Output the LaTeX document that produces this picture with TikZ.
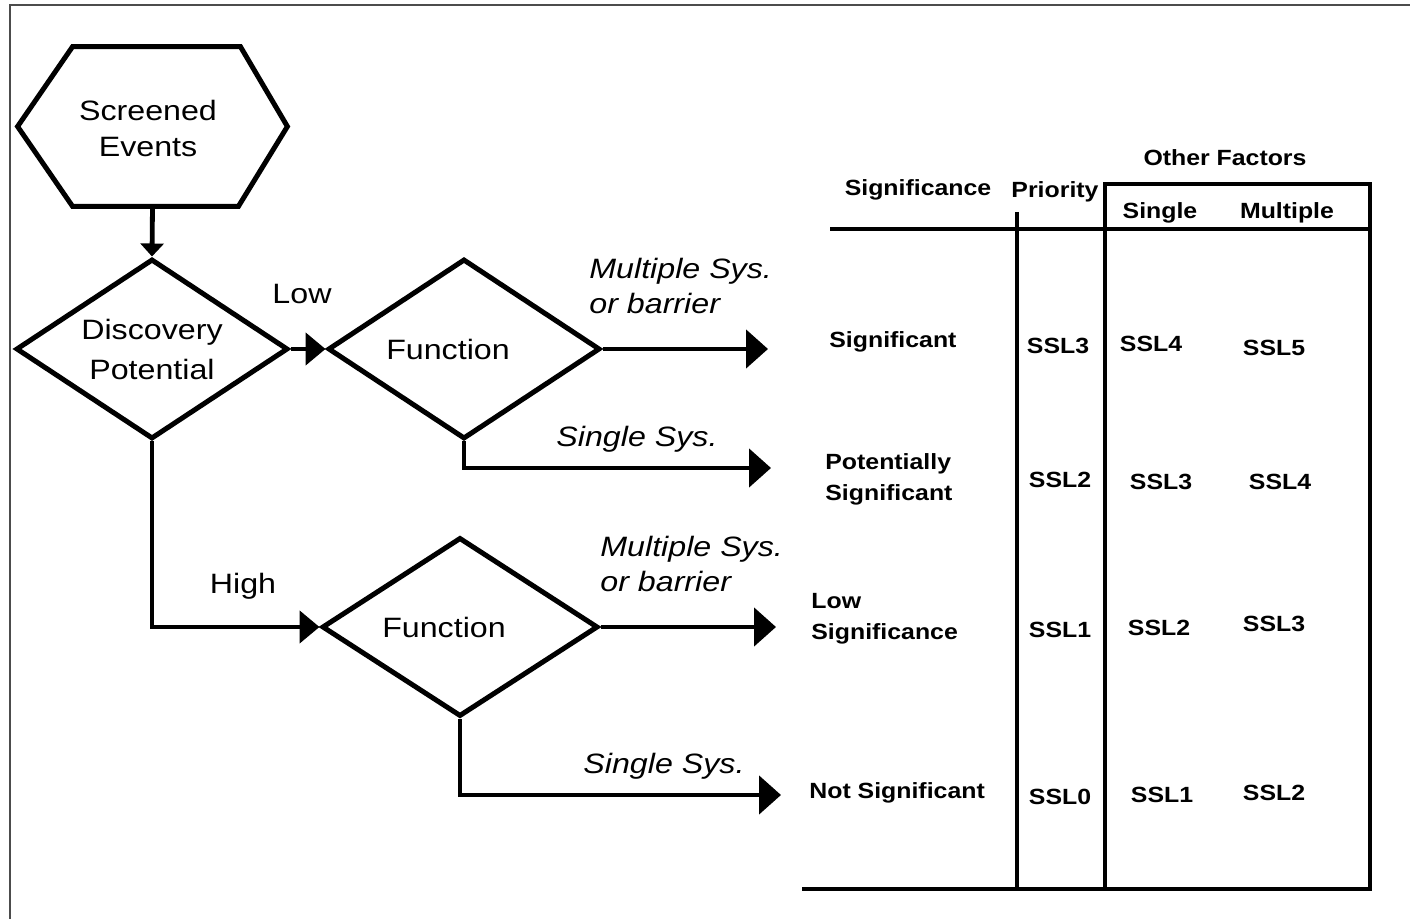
\documentclass[tikz,border=0pt]{standalone}
\usepackage{fontspec}
\setmainfont{Liberation Sans}
\newfontfamily\flowfont{Liberation Sans}[FakeStretch=1.15]
\newfontfamily\tabfont{Liberation Sans}[FakeStretch=1.13]
\usetikzlibrary{shapes.geometric,arrows.meta}
\begin{document}
\begin{tikzpicture}[x=0.5pt,y=-0.5pt,
  ftxt/.style={font=\flowfont\fontsize{14}{18}\selectfont, inner sep=0pt, align=center},
  itxt/.style={font=\flowfont\itshape\fontsize{14}{17.5}\selectfont, inner sep=0pt, align=left},
  ttxt/.style={font=\tabfont\bfseries\fontsize{11}{15.5}\selectfont, inner sep=0pt, align=left},
  dia/.style={diamond, draw, line width=2.5pt, inner sep=0pt, shape aspect=1.5,
     minimum width=136pt, minimum height=90pt,
     font=\flowfont\fontsize{14}{20}\selectfont, align=center},
  conn/.style={line width=2.4pt},
  bighead/.style={conn, -{Triangle[length=11pt,width=19pt]}},
  midhead/.style={conn, -{Triangle[length=10pt,width=16pt]}},
  smallhead/.style={conn, -{Triangle[length=6.5pt,width=11.5pt]}},
  tline/.style={line width=2.1pt},
]
\useasboundingbox (0,0) rectangle (1410,919);
\fill[white] (0,0) rectangle (1410,919);
% frame
\draw[black!70, line width=1pt] (10,919) -- (10,5) -- (1410,5);

% hexagon
\node[minimum width=134.5pt, minimum height=79.5pt, inner sep=0pt] (se) at (152.5,126.5) {};
\draw[line width=2.5pt, line join=miter]
  (se.west) -- ([xshift=27.5pt]se.north west) -- ([xshift=-23.5pt]se.north east)
  -- (se.east) -- ([xshift=-24.5pt]se.south east) -- ([xshift=27.5pt]se.south west) -- cycle;
\node[ftxt] (setxt) at (148,128) {Screened\\Events};

% diamonds
\node[dia] (d1) at (152,349) {Discovery\\Potential};
\node[dia] (f1) at (464,349) {\hspace*{-16pt}Function};
\node[dia, minimum width=138pt, minimum height=89.5pt] (f2) at (460,627) {\hspace*{-16pt}Function};

% arrow ends
\coordinate (t1) at (768,349);
\coordinate (t2) at (771,468);
\coordinate (t3) at (776,627);
\coordinate (t4) at (781,795);

\draw[smallhead] (se.south) -- (d1.north);
\draw[midhead] (d1.east) -- (f1.west);
\draw[bighead] (f1.east) -- (t1);
\draw[bighead] (f1.south) |- (t2);
\draw[midhead] (d1.south) |- (f2.west);
\draw[bighead] (f2.east) -- (t3);
\draw[bighead] (f2.south) |- (t4);

% flow labels
\node[ftxt] (low) at (302,294) {Low};
\node[ftxt] (high) at (243,586) {High};
\node[itxt, anchor=north west] (m1) at (589,258) {Multiple Sys.\\or barrier};
\node[itxt] (s1) at (637,439) {Single Sys.};
\node[itxt, anchor=north west] (m2) at (600,536) {Multiple Sys.\\or barrier};
\node[itxt] (s2) at (664,766) {Single Sys.};

% table lines
\draw[tline] (830,229) -- (1370,229);
\draw[tline] (1017,212) -- (1017,889);
\draw[tline, line join=miter] (1105,889) -- (1105,184) -- (1370,184) -- (1370,889);
\draw[tline] (802,889) -- (1372,889);

% table headers
\node[ttxt] (of) at (1225,158) {Other Factors};
\node[ttxt] (hsig) at (918,190) {Significance};
\node[ttxt] (hpri) at (1055,192) {Priority};
\node[ttxt] (hsin) at (1160,213) {Single};
\node[ttxt] (hmul) at (1287,213) {Multiple};

% rows
\node[ttxt, anchor=west] (r1) at (829,342) {Significant};
\node[ttxt] (r1a) at (1058,346) {SSL3};
\node[ttxt] (r1b) at (1151,344) {SSL4};
\node[ttxt] (r1c) at (1274,348) {SSL5};

\node[ttxt, anchor=west] (r2) at (825,479) {Potentially\\Significant};
\node[ttxt] (r2a) at (1060,480) {SSL2};
\node[ttxt] (r2b) at (1161,482) {SSL3};
\node[ttxt] (r2c) at (1280,482) {SSL4};

\node[ttxt, anchor=west] (r3) at (811,619) {Low\\Significance};
\node[ttxt] (r3a) at (1060,630) {SSL1};
\node[ttxt] (r3b) at (1159,628) {SSL2};
\node[ttxt] (r3c) at (1274,624) {SSL3};

\node[ttxt, anchor=west] (r4) at (809,793) {Not Significant};
\node[ttxt] (r4a) at (1060,797) {SSL0};
\node[ttxt] (r4b) at (1162,795) {SSL1};
\node[ttxt] (r4c) at (1274,793) {SSL2};
\end{tikzpicture}
\end{document}
